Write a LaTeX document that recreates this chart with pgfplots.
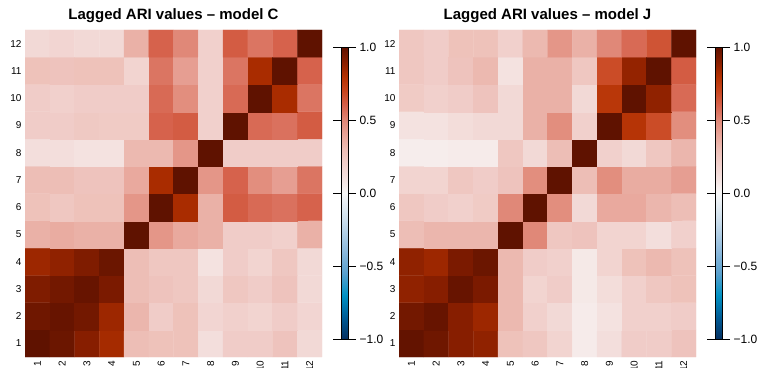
\documentclass[border=0pt]{standalone}
\usepackage{pgfplots}
\pgfplotsset{compat=1.18}
\usepackage{fontspec}
\setmainfont{Liberation Sans}
\pgfplotsset{colormap={ari}{
rgb255(0cm)=(5,48,97) rgb255(1.5cm)=(0,92,150) rgb255(3cm)=(0,145,195) rgb255(4.5cm)=(90,160,205)
rgb255(6cm)=(140,185,220) rgb255(8cm)=(200,220,235) rgb255(10cm)=(248,248,248)
rgb255(11cm)=(244,226,224) rgb255(12cm)=(241,208,204) rgb255(13cm)=(237,190,182)
rgb255(14cm)=(232,164,152) rgb255(15cm)=(224,136,120) rgb255(16cm)=(214,98,76)
rgb255(17cm)=(200,70,30) rgb255(18cm)=(178,48,0) rgb255(19cm)=(135,30,0) rgb255(20cm)=(95,18,0)}}
\pgfplotsset{heat/.style={
  anchor=south west, scale only axis, width=297pt, height=327pt,
  xmin=0.5, xmax=12.5, ymin=0.5, ymax=12.5,
  axis line style={draw=none}, major tick length=0pt,
  xtick={1,...,12}, ytick={1,...,12},
  xticklabels={1,2,3,4,5,6,7,8,9,10,11,12},
  yticklabels={1,2,3,4,5,6,7,8,9,10,11,12},
  xticklabel style={rotate=90, anchor=east, font=\fontsize{10}{11}\selectfont},
  yticklabel style={anchor=east, font=\fontsize{10}{11}\selectfont},
  colormap name=ari, point meta min=-1, point meta max=1,
  title style={at={(0.5,1)}, anchor=base, yshift=4pt, font=\bfseries\fontsize{15}{17}\selectfont},
  colorbar,
  colorbar style={at={(parent axis.south east)}, anchor=south west, xshift=10.5pt, yshift=18pt,
    scale only axis, width=7pt, height=292pt,
    ytick={-1,-0.5,0,0.5,1}, yticklabels={−1.0,−0.5,0.0,0.5,1.0},
    yticklabel pos=right, ytick align=outside, major tick length=8pt,
    tick style={black, line width=0.7pt}, axis line style={black, line width=0.7pt},
    yticklabel style={anchor=west, font=\fontsize{12}{13}\selectfont, xshift=0pt}},
}}
\begin{document}
\begin{tikzpicture}
\begin{axis}[heat, at={(25pt,10pt)}, title={Lagged ARI values – model C}]
\addplot[matrix plot*, mesh/cols=12, point meta=explicit] table[row sep=\\, meta=c] {
x y c\\
1 1 1.0\\ 2 1 0.97\\ 3 1 0.9\\ 4 1 0.83\\ 5 1 0.3\\ 6 1 0.28\\ 7 1 0.28\\ 8 1 0.12\\ 9 1 0.22\\ 10 1 0.22\\ 11 1 0.27\\ 12 1 0.15\\
1 2 0.96\\ 2 2 0.98\\ 3 2 0.95\\ 4 2 0.85\\ 5 2 0.33\\ 6 2 0.22\\ 7 2 0.28\\ 8 2 0.17\\ 9 2 0.2\\ 10 2 0.18\\ 11 2 0.22\\ 12 2 0.17\\
1 3 0.92\\ 2 3 0.95\\ 3 3 0.98\\ 4 3 0.93\\ 5 3 0.3\\ 6 3 0.27\\ 7 3 0.25\\ 8 3 0.15\\ 9 3 0.25\\ 10 3 0.22\\ 11 3 0.27\\ 12 3 0.15\\
1 4 0.85\\ 2 4 0.88\\ 3 4 0.92\\ 4 4 0.97\\ 5 4 0.3\\ 6 4 0.25\\ 7 4 0.25\\ 8 4 0.1\\ 9 4 0.22\\ 10 4 0.18\\ 11 4 0.25\\ 12 4 0.15\\
1 5 0.35\\ 2 5 0.37\\ 3 5 0.35\\ 4 5 0.35\\ 5 5 1.0\\ 6 5 0.45\\ 7 5 0.38\\ 8 5 0.35\\ 9 5 0.22\\ 10 5 0.22\\ 11 5 0.2\\ 12 5 0.35\\
1 6 0.28\\ 2 6 0.25\\ 3 6 0.28\\ 4 6 0.28\\ 5 6 0.45\\ 6 6 1.0\\ 7 6 0.82\\ 8 6 0.35\\ 9 6 0.62\\ 10 6 0.58\\ 11 6 0.56\\ 12 6 0.6\\
1 7 0.3\\ 2 7 0.3\\ 3 7 0.27\\ 4 7 0.27\\ 5 7 0.38\\ 6 7 0.82\\ 7 7 1.0\\ 8 7 0.45\\ 9 7 0.6\\ 10 7 0.48\\ 11 7 0.42\\ 12 7 0.55\\
1 8 0.12\\ 2 8 0.12\\ 3 8 0.1\\ 4 8 0.1\\ 5 8 0.32\\ 6 8 0.32\\ 7 8 0.45\\ 8 8 1.0\\ 9 8 0.22\\ 10 8 0.22\\ 11 8 0.22\\ 12 8 0.22\\
1 9 0.22\\ 2 9 0.22\\ 3 9 0.24\\ 4 9 0.23\\ 5 9 0.23\\ 6 9 0.6\\ 7 9 0.62\\ 8 9 0.2\\ 9 9 1.0\\ 10 9 0.58\\ 11 9 0.56\\ 12 9 0.62\\
1 10 0.22\\ 2 10 0.2\\ 3 10 0.22\\ 4 10 0.22\\ 5 10 0.22\\ 6 10 0.58\\ 7 10 0.48\\ 8 10 0.2\\ 9 10 0.58\\ 10 10 1.0\\ 11 10 0.82\\ 12 10 0.55\\
1 11 0.28\\ 2 11 0.27\\ 3 11 0.28\\ 4 11 0.28\\ 5 11 0.18\\ 6 11 0.55\\ 7 11 0.42\\ 8 11 0.2\\ 9 11 0.55\\ 10 11 0.82\\ 11 11 1.0\\ 12 11 0.6\\
1 12 0.15\\ 2 12 0.17\\ 3 12 0.15\\ 4 12 0.15\\ 5 12 0.35\\ 6 12 0.6\\ 7 12 0.5\\ 8 12 0.2\\ 9 12 0.62\\ 10 12 0.55\\ 11 12 0.6\\ 12 12 1.0\\
};
\end{axis}
\begin{axis}[heat, at={(399pt,10pt)}, title={Lagged ARI values – model J}]
\addplot[matrix plot*, mesh/cols=12, point meta=explicit] table[row sep=\\, meta=c] {
x y c\\
1 1 0.99\\ 2 1 0.96\\ 3 1 0.9\\ 4 1 0.88\\ 5 1 0.28\\ 6 1 0.25\\ 7 1 0.18\\ 8 1 0.06\\ 9 1 0.12\\ 10 1 0.22\\ 11 1 0.22\\ 12 1 0.27\\
1 2 0.95\\ 2 2 0.98\\ 3 2 0.9\\ 4 2 0.85\\ 5 2 0.32\\ 6 2 0.2\\ 7 2 0.15\\ 8 2 0.06\\ 9 2 0.1\\ 10 2 0.2\\ 11 2 0.2\\ 12 2 0.22\\
1 3 0.88\\ 2 3 0.9\\ 3 3 0.98\\ 4 3 0.93\\ 5 3 0.32\\ 6 3 0.18\\ 7 3 0.22\\ 8 3 0.07\\ 9 3 0.13\\ 10 3 0.2\\ 11 3 0.25\\ 12 3 0.28\\
1 4 0.88\\ 2 4 0.85\\ 3 4 0.93\\ 4 4 0.97\\ 5 4 0.32\\ 6 4 0.22\\ 7 4 0.2\\ 8 4 0.07\\ 9 4 0.18\\ 10 4 0.28\\ 11 4 0.32\\ 12 4 0.28\\
1 5 0.3\\ 2 5 0.33\\ 3 5 0.33\\ 4 5 0.33\\ 5 5 1.0\\ 6 5 0.5\\ 7 5 0.25\\ 8 5 0.27\\ 9 5 0.18\\ 10 5 0.18\\ 11 5 0.12\\ 12 5 0.2\\
1 6 0.25\\ 2 6 0.22\\ 3 6 0.2\\ 4 6 0.23\\ 5 6 0.5\\ 6 6 1.0\\ 7 6 0.48\\ 8 6 0.15\\ 9 6 0.38\\ 10 6 0.38\\ 11 6 0.33\\ 12 6 0.3\\
1 7 0.18\\ 2 7 0.18\\ 3 7 0.25\\ 4 7 0.22\\ 5 7 0.27\\ 6 7 0.48\\ 7 7 1.0\\ 8 7 0.3\\ 9 7 0.48\\ 10 7 0.37\\ 11 7 0.37\\ 12 7 0.42\\
1 8 0.05\\ 2 8 0.05\\ 3 8 0.06\\ 4 8 0.06\\ 5 8 0.25\\ 6 8 0.15\\ 7 8 0.3\\ 8 8 1.0\\ 9 8 0.2\\ 10 8 0.15\\ 11 8 0.25\\ 12 8 0.33\\
1 9 0.1\\ 2 9 0.1\\ 3 9 0.13\\ 4 9 0.15\\ 5 9 0.15\\ 6 9 0.35\\ 7 9 0.48\\ 8 9 0.2\\ 9 9 1.0\\ 10 9 0.78\\ 11 9 0.68\\ 12 9 0.48\\
1 10 0.23\\ 2 10 0.2\\ 3 10 0.22\\ 4 10 0.27\\ 5 10 0.15\\ 6 10 0.35\\ 7 10 0.35\\ 8 10 0.15\\ 9 10 0.77\\ 10 10 1.0\\ 11 10 0.88\\ 12 10 0.58\\
1 11 0.25\\ 2 11 0.22\\ 3 11 0.27\\ 4 11 0.32\\ 5 11 0.1\\ 6 11 0.35\\ 7 11 0.35\\ 8 11 0.25\\ 9 11 0.68\\ 10 11 0.87\\ 11 11 1.0\\ 12 11 0.62\\
1 12 0.25\\ 2 12 0.22\\ 3 12 0.28\\ 4 12 0.28\\ 5 12 0.2\\ 6 12 0.32\\ 7 12 0.45\\ 8 12 0.35\\ 9 12 0.5\\ 10 12 0.58\\ 11 12 0.65\\ 12 12 1.0\\
};
\end{axis}
\pgfresetboundingbox
\useasboundingbox (0pt,0pt) rectangle (757pt,367pt);
\end{tikzpicture}
\end{document}
